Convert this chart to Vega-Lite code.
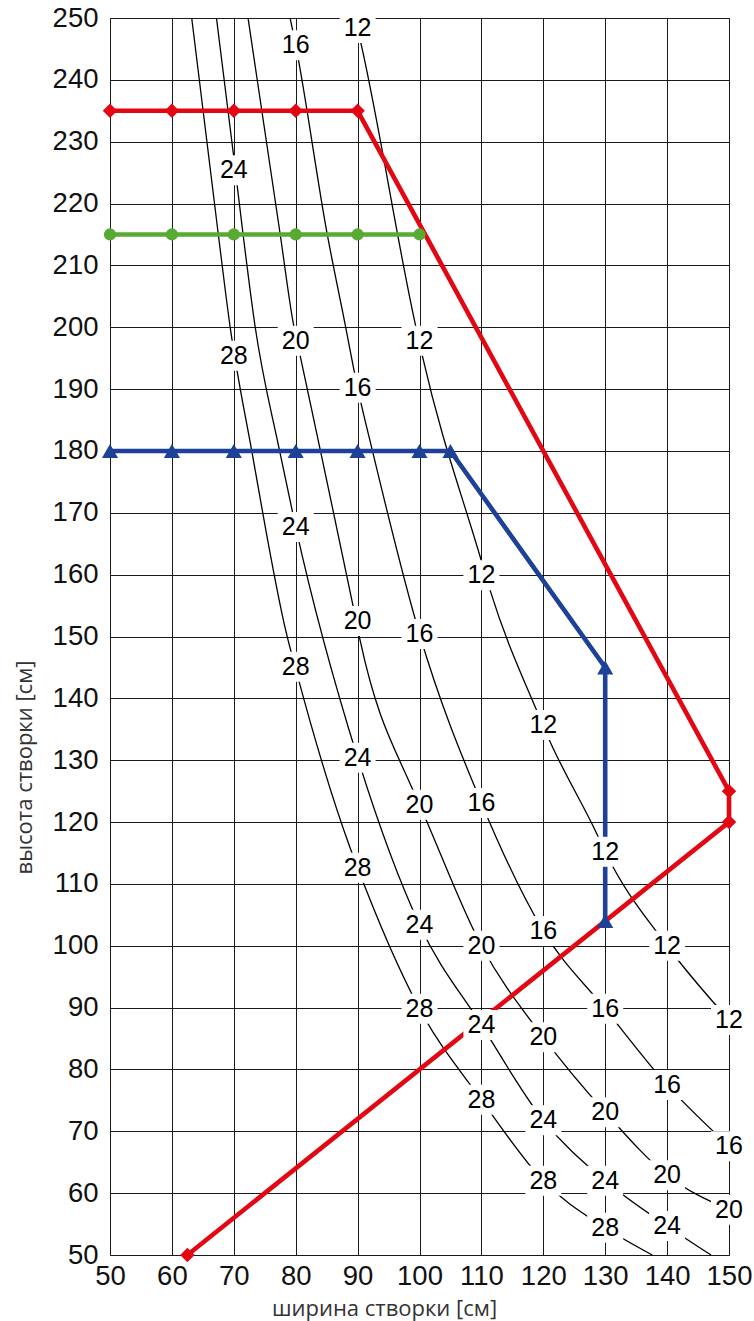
{
  "$schema": "https://vega.github.io/schema/vega-lite/v6.json",
  "width": 619,
  "height": 1237,
  "autosize": {"type": "none"},
  "padding": {"left": 110, "top": 18, "right": 25, "bottom": 66},
  "background": "white",
  "config": {
    "view": {"stroke": "#333", "strokeWidth": 1},
    "axis": {
      "grid": true,
      "gridColor": "#1a1a1a",
      "gridOpacity": 1,
      "gridWidth": 1,
      "domain": false,
      "ticks": false,
      "labelFont": "Liberation Sans",
      "labelFontSize": 27.5,
      "labelColor": "#111",
      "labelOverlap": false,
      "labelFlush": false,
      "titleFont": "Open Sans",
      "titleFontSize": 22,
      "titleFontWeight": "normal",
      "titleColor": "#333"
    }
  },
  "datasets": {
    "curves": [
      {"k": "28", "x": 63.2, "y": 250}, {"k": "28", "x": 67.5, "y": 215}, {"k": "28", "x": 69.4, "y": 200.1}, {"k": "28", "x": 72.9, "y": 180}, {"k": "28", "x": 78.5, "y": 150.5}, {"k": "28", "x": 80.2, "y": 144}, {"k": "28", "x": 88.8, "y": 115.8}, {"k": "28", "x": 90, "y": 112.6}, {"k": "28", "x": 100, "y": 89.8}, {"k": "28", "x": 110, "y": 75.1}, {"k": "28", "x": 120, "y": 62.0}, {"k": "28", "x": 130, "y": 54.4}, {"k": "28", "x": 137.6, "y": 50},
      {"k": "24", "x": 67.2, "y": 250}, {"k": "24", "x": 69.9, "y": 228.3}, {"k": "24", "x": 71.5, "y": 215}, {"k": "24", "x": 73.4, "y": 200.4}, {"k": "24", "x": 77.4, "y": 180}, {"k": "24", "x": 80, "y": 167.7}, {"k": "24", "x": 90, "y": 130.4}, {"k": "24", "x": 100, "y": 103.4}, {"k": "24", "x": 110, "y": 87.2}, {"k": "24", "x": 120, "y": 71.8}, {"k": "24", "x": 130, "y": 62.0}, {"k": "24", "x": 140, "y": 54.7}, {"k": "24", "x": 147.1, "y": 50},
      {"k": "20", "x": 72.3, "y": 250}, {"k": "20", "x": 77.5, "y": 215}, {"k": "20", "x": 79.6, "y": 200.7}, {"k": "20", "x": 80.7, "y": 195.5}, {"k": "20", "x": 84, "y": 180}, {"k": "20", "x": 89.3, "y": 154.8}, {"k": "20", "x": 90.4, "y": 149.4}, {"k": "20", "x": 98.7, "y": 125.7}, {"k": "20", "x": 100, "y": 122.8}, {"k": "20", "x": 110, "y": 100}, {"k": "20", "x": 120, "y": 85.2}, {"k": "20", "x": 130, "y": 73.1}, {"k": "20", "x": 140, "y": 62.9}, {"k": "20", "x": 150, "y": 57.3},
      {"k": "16", "x": 79.1, "y": 250}, {"k": "16", "x": 80, "y": 245.6}, {"k": "16", "x": 85.1, "y": 215}, {"k": "16", "x": 88, "y": 200.4}, {"k": "16", "x": 90, "y": 190.2}, {"k": "16", "x": 92.4, "y": 180}, {"k": "16", "x": 100, "y": 150.4}, {"k": "16", "x": 110, "y": 123.1}, {"k": "16", "x": 120, "y": 102.4}, {"k": "16", "x": 130, "y": 89.8}, {"k": "16", "x": 140, "y": 77.5}, {"k": "16", "x": 150, "y": 67.6},
      {"k": "12", "x": 89.6, "y": 250}, {"k": "12", "x": 90.65, "y": 245.4}, {"k": "12", "x": 99.3, "y": 200.6}, {"k": "12", "x": 100.5, "y": 195.2}, {"k": "12", "x": 109.8, "y": 162.9}, {"k": "12", "x": 111.4, "y": 157.5}, {"k": "12", "x": 118.9, "y": 138.1}, {"k": "12", "x": 121.1, "y": 133.0}, {"k": "12", "x": 128.6, "y": 118.2}, {"k": "12", "x": 130, "y": 115.2}, {"k": "12", "x": 140, "y": 100}, {"k": "12", "x": 150, "y": 88}
    ],
    "labels": [
      {"k": "12", "x": 90, "y": 248.4}, {"k": "12", "x": 100, "y": 197.8}, {"k": "12", "x": 110, "y": 159.9}, {"k": "12", "x": 120, "y": 135.7}, {"k": "12", "x": 130, "y": 115.2}, {"k": "12", "x": 140, "y": 100}, {"k": "12", "x": 150, "y": 88},
      {"k": "16", "x": 80, "y": 245.6}, {"k": "16", "x": 90, "y": 190.2}, {"k": "16", "x": 100, "y": 150.4}, {"k": "16", "x": 110, "y": 123.1}, {"k": "16", "x": 120, "y": 102.4}, {"k": "16", "x": 130, "y": 89.8}, {"k": "16", "x": 140, "y": 77.5}, {"k": "16", "x": 150, "y": 67.6},
      {"k": "20", "x": 80, "y": 197.8}, {"k": "20", "x": 90, "y": 152.5}, {"k": "20", "x": 100, "y": 122.8}, {"k": "20", "x": 110, "y": 100}, {"k": "20", "x": 120, "y": 85.2}, {"k": "20", "x": 130, "y": 73.1}, {"k": "20", "x": 140, "y": 62.9}, {"k": "20", "x": 150, "y": 57.3},
      {"k": "24", "x": 70, "y": 225.4}, {"k": "24", "x": 80, "y": 167.7}, {"k": "24", "x": 90, "y": 130.4}, {"k": "24", "x": 100, "y": 103.4}, {"k": "24", "x": 110, "y": 87.2}, {"k": "24", "x": 120, "y": 71.8}, {"k": "24", "x": 130, "y": 62.0}, {"k": "24", "x": 140, "y": 54.7},
      {"k": "28", "x": 70, "y": 195.4}, {"k": "28", "x": 80, "y": 145.1}, {"k": "28", "x": 90, "y": 112.6}, {"k": "28", "x": 100, "y": 89.8}, {"k": "28", "x": 110, "y": 75.1}, {"k": "28", "x": 120, "y": 62.0}, {"k": "28", "x": 130, "y": 54.4}
    ],
    "limits": [
      {"s": "A", "o": 1, "x": 50, "y": 235}, {"s": "A", "o": 2, "x": 60, "y": 235}, {"s": "A", "o": 3, "x": 70, "y": 235}, {"s": "A", "o": 4, "x": 80, "y": 235}, {"s": "A", "o": 5, "x": 90, "y": 235}, {"s": "A", "o": 6, "x": 150, "y": 125}, {"s": "A", "o": 7, "x": 150, "y": 120}, {"s": "A", "o": 8, "x": 62.5, "y": 50},
      {"s": "B", "o": 1, "x": 50, "y": 215}, {"s": "B", "o": 2, "x": 60, "y": 215}, {"s": "B", "o": 3, "x": 70, "y": 215}, {"s": "B", "o": 4, "x": 80, "y": 215}, {"s": "B", "o": 5, "x": 90, "y": 215}, {"s": "B", "o": 6, "x": 100, "y": 215},
      {"s": "C", "o": 1, "x": 50, "y": 180}, {"s": "C", "o": 2, "x": 60, "y": 180}, {"s": "C", "o": 3, "x": 70, "y": 180}, {"s": "C", "o": 4, "x": 80, "y": 180}, {"s": "C", "o": 5, "x": 90, "y": 180}, {"s": "C", "o": 6, "x": 100, "y": 180}, {"s": "C", "o": 7, "x": 105, "y": 180}, {"s": "C", "o": 8, "x": 130, "y": 145}, {"s": "C", "o": 9, "x": 130, "y": 104}
    ]
  },
  "encoding": {
    "x": {
      "field": "x", "type": "quantitative",
      "scale": {"domain": [50, 150], "nice": false, "zero": false},
      "axis": {"values": [50, 60, 70, 80, 90, 100, 110, 120, 130, 140, 150], "title": "ширина створки [см]", "labelPadding": 7, "titleX": 274, "titleY": 53, "titleBaseline": "middle", "titleAlign": "center"}
    },
    "y": {
      "field": "y", "type": "quantitative",
      "scale": {"domain": [50, 250], "nice": false, "zero": false},
      "axis": {"values": [50, 60, 70, 80, 90, 100, 110, 120, 130, 140, 150, 160, 170, 180, 190, 200, 210, 220, 230, 240, 250], "title": "высота створки [см]", "labelPadding": 12, "titleX": -86, "titleY": 749, "titleBaseline": "middle", "titleAlign": "center", "titleAngle": -90}
    }
  },
  "layer": [
    {
      "data": {"name": "curves"},
      "mark": {"type": "line", "color": "#000", "strokeWidth": 1.3, "interpolate": "monotone"},
      "encoding": {"detail": {"field": "k"}}
    },
    {
      "data": {"name": "limits"},
      "mark": {"type": "line", "strokeWidth": 4.6},
      "encoding": {
        "color": {"field": "s", "type": "nominal", "scale": {"domain": ["A", "B", "C"], "range": ["#e30613", "#57ab33", "#1d4196"]}, "legend": null},
        "order": {"field": "o", "type": "quantitative"}
      }
    },
    {
      "data": {"name": "limits"},
      "transform": [{"filter": "datum.s === 'A'"}],
      "mark": {"type": "point", "shape": "diamond", "size": 210, "filled": true, "opacity": 1, "color": "#e30613"}
    },
    {
      "data": {"name": "limits"},
      "transform": [{"filter": "datum.s === 'B'"}],
      "mark": {"type": "point", "shape": "circle", "size": 150, "filled": true, "opacity": 1, "color": "#57ab33"}
    },
    {
      "data": {"name": "limits"},
      "transform": [{"filter": "datum.s === 'C'"}],
      "mark": {"type": "point", "shape": "triangle-up", "size": 260, "filled": true, "opacity": 1, "color": "#1d4196"}
    },
    {
      "data": {"name": "labels"},
      "mark": {"type": "point", "shape": "M-1.2,-1H1.2V1H-1.2Z", "size": 900, "filled": true, "opacity": 1, "color": "white", "strokeWidth": 0}
    },
    {
      "data": {"name": "labels"},
      "mark": {"type": "text", "font": "Liberation Sans", "fontSize": 25, "color": "#000", "align": "center", "baseline": "middle"},
      "encoding": {"text": {"field": "k"}}
    }
  ]
}
